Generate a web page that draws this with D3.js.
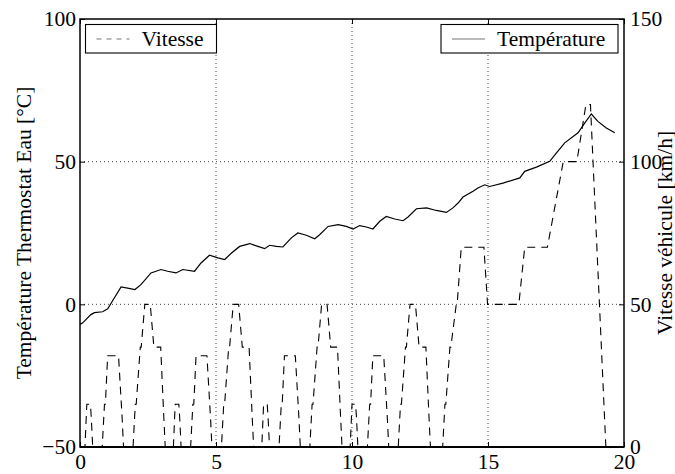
<!DOCTYPE html>
<html>
<head>
<meta charset="utf-8">
<script src="https://cdn.jsdelivr.net/npm/d3@7"></script>
<style>
  body { margin: 0; background: #fff; }
</style>
</head>
<body>
<svg id="chart" width="675" height="474"></svg>
<script>
// Temperature of the thermostat water (left axis), time in minutes
const tempTime = [0, 0.1, 0.4, 0.53, 0.83, 1.02, 1.26, 1.51, 1.75, 2.02, 2.24, 2.61, 2.98, 3.22, 3.53, 3.78,
  4.21, 4.45, 4.76, 5.07, 5.32, 5.57, 5.87, 6.24, 6.54, 6.79, 6.97, 7.22, 7.46, 7.77, 8.01, 8.32, 8.63,
  8.81, 9.12, 9.49, 9.79, 10.04, 10.28, 10.53, 10.77, 11.02, 11.26, 11.57, 11.88, 12.06, 12.37, 12.74,
  13.1, 13.47, 13.71, 13.9, 14.08, 14.45, 14.63, 14.88, 15.06, 15.55, 16.17, 16.35, 16.78, 17.27,
  17.51, 17.82, 18.31, 18.56, 18.8, 19.04, 19.35, 19.66];
const tempValue = [-7.1, -6.5, -3.6, -2.9, -2.6, -1.6, 2.2, 6.1, 5.7, 5.2, 6.9, 11.0, 12.2, 11.6, 11.0, 12.2,
  11.6, 14.5, 17.2, 16.3, 15.7, 18.0, 20.3, 21.3, 20.3, 19.5, 20.7, 20.3, 20.1, 23.3, 25.0, 24.2, 23.0,
  24.4, 27.3, 27.9, 27.3, 26.4, 27.6, 27.1, 26.4, 29.1, 30.8, 29.9, 29.3, 30.6, 33.5, 33.8,
  32.9, 32.2, 33.8, 35.5, 37.6, 39.6, 40.8, 41.9, 41.3, 42.5, 44.3, 46.6, 48.1, 50.1,
  53.0, 56.6, 60.1, 63.6, 66.7, 64.1, 61.8, 60.1];

// Vehicle speed (right axis), time in seconds
const speedTime = [0, 11, 15, 23, 25, 28, 49, 54, 56, 61, 85, 93, 96, 117, 122, 124, 133, 135, 143, 155, 163, 176, 178, 185, 188, 195,
  206, 210, 218, 220, 223, 244, 249, 251, 256, 280, 288, 291, 312, 317, 319, 328, 330, 338, 350, 358, 371, 373, 380, 383, 390,
  401, 405, 413, 415, 418, 439, 444, 446, 451, 475, 483, 486, 507, 512, 514, 523, 525, 533, 545, 553, 566, 568, 575, 578, 585,
  596, 600, 608, 610, 613, 634, 639, 641, 646, 670, 678, 681, 702, 707, 709, 718, 720, 728, 740, 748, 761, 763, 770, 773, 780,
  800, 805, 807, 816, 818, 830, 832, 841, 891, 899, 968, 981, 1031, 1066, 1096, 1116, 1126, 1160, 1180];
const speedValue = [0, 0, 15, 15, 10, 0, 0, 15, 15, 32, 32, 10, 0, 0, 15, 15, 35, 35, 50, 50, 35, 35, 35, 10, 0, 0,
  0, 15, 15, 10, 0, 0, 15, 15, 32, 32, 10, 0, 0, 15, 15, 35, 35, 50, 50, 35, 35, 35, 10, 0, 0,
  0, 15, 15, 10, 0, 0, 15, 15, 32, 32, 10, 0, 0, 15, 15, 35, 35, 50, 50, 35, 35, 35, 10, 0, 0,
  0, 15, 15, 10, 0, 0, 15, 15, 32, 32, 10, 0, 0, 15, 15, 35, 35, 50, 50, 35, 35, 35, 10, 0, 0,
  0, 15, 15, 35, 35, 50, 50, 70, 70, 50, 50, 70, 70, 100, 100, 120, 120, 0, 0];

const xTicks = [0, 5, 10, 15, 20];
const tempTicks = [-50, 0, 50, 100];
const speedTicks = [0, 50, 100, 150];

const leftTitle = 'Température Thermostat Eau [°C]';
const rightTitle = 'Vitesse véhicule [km/h]';
const speedName = 'Vitesse';
const tempName = 'Température';

const FONT = '"Liberation Serif", "Times New Roman", Times, "DejaVu Serif", serif';
const fontSize = 21.5;

const svg = d3.select('#chart')
  .attr('font-family', FONT)
  .style('font-family', FONT);
const margin = { left: 80, right: 51, top: 19, bottom: 27 };
const width = 675 - margin.left - margin.right;
const height = 474 - margin.top - margin.bottom;

const g = svg.append('g').attr('transform', `translate(${margin.left},${margin.top})`);

const x = d3.scaleLinear().domain([0, 20]).range([0, width]);
const yTemp = d3.scaleLinear().domain([-50, 100]).range([height, 0]);
const ySpeed = d3.scaleLinear().domain([0, 150]).range([height, 0]);

const fmt = d => d < 0 ? '\u2212' + Math.abs(d) : String(d);

// dotted grid
const grid = g.append('g').attr('class', 'grid');
grid.selectAll('.vgrid')
  .data(xTicks.filter(d => d > 0 && d < 20))
  .join('line')
  .attr('x1', d => x(d)).attr('x2', d => x(d))
  .attr('y1', 0).attr('y2', height)
  .attr('stroke', '#444').attr('stroke-width', 1).attr('stroke-dasharray', '1,3');
grid.selectAll('.hgrid')
  .data(tempTicks.filter(d => d > -50 && d < 100))
  .join('line')
  .attr('x1', 0).attr('x2', width)
  .attr('y1', d => yTemp(d)).attr('y2', d => yTemp(d))
  .attr('stroke', '#444').attr('stroke-width', 1).attr('stroke-dasharray', '1,3');

// series
const speedLine = d3.line()
  .x((d, i) => x(speedTime[i] / 60))
  .y(d => ySpeed(d));
g.append('path')
  .datum(speedValue)
  .attr('d', speedLine)
  .attr('fill', 'none')
  .attr('stroke', '#000')
  .attr('stroke-width', 1.1)
  .attr('stroke-dasharray', '8,6');

const tempLine = d3.line()
  .x((d, i) => x(tempTime[i]))
  .y(d => yTemp(d));
g.append('path')
  .datum(tempValue)
  .attr('d', tempLine)
  .attr('fill', 'none')
  .attr('stroke', '#000')
  .attr('stroke-width', 1.2);

// axes (matlab style, inward ticks)
const styleAxis = sel => {
  sel.attr('font-family', FONT).attr('font-size', fontSize);
  sel.select('.domain').remove();
  sel.selectAll('line').attr('stroke', '#000').attr('stroke-width', 1);
  sel.selectAll('text')
    .attr('fill', '#000')
    .style('font-family', FONT)
    .style('font-size', `${fontSize}px`);
};

g.append('g')
  .attr('transform', `translate(0,${height})`)
  .call(d3.axisBottom(x).tickValues(xTicks).tickSizeInner(-5).tickSizeOuter(0).tickPadding(8).tickFormat(fmt))
  .call(styleAxis)
  .selectAll('text').attr('dy', '0.66em');

g.append('g')
  .call(d3.axisTop(x).tickValues(xTicks).tickSizeInner(-5).tickSizeOuter(0).tickFormat(''))
  .call(styleAxis);

g.append('g')
  .call(d3.axisLeft(yTemp).tickValues(tempTicks).tickSizeInner(-5).tickSizeOuter(0).tickPadding(4).tickFormat(fmt))
  .call(styleAxis);

g.append('g')
  .attr('transform', `translate(${width},0)`)
  .call(d3.axisRight(ySpeed).tickValues(speedTicks).tickSizeInner(-5).tickSizeOuter(0).tickPadding(6).tickFormat(fmt))
  .call(styleAxis);

// frame
g.append('rect')
  .attr('width', width).attr('height', height)
  .attr('fill', 'none').attr('stroke', '#000').attr('stroke-width', 1.5);
g.append('line')
  .attr('x1', 0).attr('x2', width).attr('y1', height).attr('y2', height)
  .attr('stroke', '#000').attr('stroke-width', 2.2);

// axis titles
svg.append('text')
  .attr('transform', `translate(30.5,${margin.top + height / 2}) rotate(-90)`)
  .attr('text-anchor', 'middle')
  .style('font-family', FONT)
  .style('font-size', `${fontSize}px`)
  .text(leftTitle);
svg.append('text')
  .attr('transform', `translate(672,${margin.top + height / 2}) rotate(-90)`)
  .attr('text-anchor', 'middle')
  .style('font-family', FONT)
  .style('font-size', `${fontSize}px`)
  .text(rightTitle);

// legends
function legend(x0, y0, w, name, dash) {
  const lg = g.append('g').attr('transform', `translate(${x0},${y0})`);
  lg.append('rect')
    .attr('width', w).attr('height', 28.5)
    .attr('fill', '#fff').attr('stroke', '#000').attr('stroke-width', 1.1);
  lg.append('line')
    .attr('x1', 11).attr('x2', 44).attr('y1', 14.5).attr('y2', 14.5)
    .attr('stroke', '#777').attr('stroke-width', 1.2)
    .attr('stroke-dasharray', dash);
  lg.append('text')
    .attr('x', 56).attr('y', 21.5)
    .style('font-family', FONT)
    .style('font-size', `${fontSize}px`)
    .text(name);
}
legend(5.5, 5.5, 131, speedName, '5,5');
legend(361, 5.5, 177, tempName, null);
</script>
</body>
</html>
